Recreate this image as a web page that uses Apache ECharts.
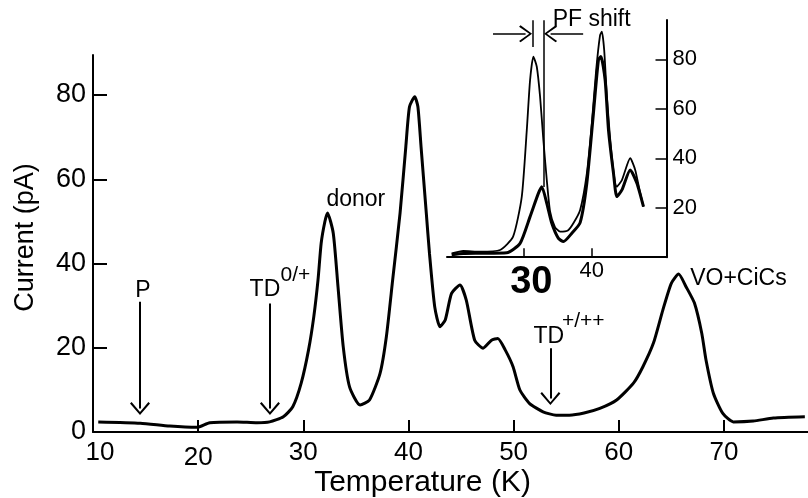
<!DOCTYPE html>
<html lang="en">
<head>
<meta charset="UTF-8">
<title>TSC spectrum</title>
<style>
    body { margin: 0; background: #fff; }
    #chart { width: 808px; height: 498px; }
</style>
</head>
<body>
<div id="chart"></div>
<script src="https://cdn.jsdelivr.net/npm/echarts/dist/echarts.min.js"></script>
<script>
// main spectrum: temperature (K) / current (pA)
const mainT = [10.5, 14.5, 17.3, 19.9, 21.1, 23.7, 25.6, 26.8, 28.1, 29.0, 29.8, 30.5, 31.0, 31.4, 31.7,
    32.05, 32.3, 32.85, 33.3, 33.8, 34.4, 35.4, 36.3, 37.3, 37.9, 38.5, 39.2, 39.75, 40.1, 40.6,
    40.9, 41.2, 41.7, 42.0, 42.5, 43.0, 43.5, 44.1, 44.9, 45.5, 46.3, 47.1, 47.9, 48.5, 49.2,
    49.95, 50.6, 51.5, 52.8, 54.05, 55.3, 56.7, 58.2, 59.8, 61.4, 62.3, 63.3, 64.2, 65.0, 65.7,
    66.4, 67.2, 67.9, 68.3, 69.0, 69.9, 70.9, 72.8, 74.7, 77.7];
const mainI = [2.4, 2.1, 1.4, 1.1, 2.2, 2.4, 2.2, 2.4, 3.6, 6.0, 11.6, 19.5, 27.4, 36.1, 44.8,
    49.9, 52.0, 47.2, 34.5, 20.2, 10.7, 6.4, 7.6, 13.9, 22.6, 36.1, 51.9, 67.7, 77.2, 79.6,
    77.2, 67.7, 51.9, 42.4, 29.7, 25.0, 26.6, 32.9, 34.9, 31.3, 21.8, 19.9, 21.8, 22.2, 19.5,
    15.5, 9.97, 6.8, 4.8, 4.0, 4.0, 4.5, 5.6, 7.6, 11.6, 15.5, 21.1, 29.0, 35.3, 37.5,
    34.5, 30.6, 23.4, 17.1, 9.2, 4.4, 2.4, 2.6, 3.3, 3.6];

// inset: thin and thick traces
const thinT = [19.53, 21.23, 23.67, 26.6, 28.5, 29.77, 30.5, 30.98, 31.46, 31.96, 32.44, 32.92, 33.42,
    33.9, 34.6, 35.37, 36.5, 37.3, 38.29, 39.27, 40.0, 40.63, 41.2, 41.46, 41.8, 42.2, 42.92,
    43.65, 44.39, 45.6, 46.33, 46.96, 47.54];
const thinI = [1.5, 2.5, 2.2, 2.9, 8.3, 24.5, 51.4, 71.6, 81.1, 77.0, 64.9, 47.4, 31.2,
    18.5, 12.3, 10.3, 10.8, 13.7, 19.1, 33.9, 54.1, 75.7, 89.8, 91.2, 83.8, 64.9, 40.6,
    28.5, 31.2, 40.0, 35.3, 27.2, 20.4];
const thickT = [19.53, 21.23, 23.67, 27.57, 29.52, 30.98, 32.19, 32.69, 33.42, 34.15, 35.12, 35.85,
    37.08, 38.29, 39.27, 40.23, 40.96, 41.32, 41.94, 42.43, 43.16, 43.65, 44.39, 45.6, 46.58, 47.54];
const thickI = [1.0, 1.5, 1.6, 1.8, 5.6, 16.4, 25.8, 28.5, 21.8, 13.7, 7.6, 6.3,
    9.7, 14.0, 30.0, 58.2, 79.7, 81.1, 71.6, 51.4, 33.9, 24.5, 27.2, 35.3, 29.9, 20.4];

// tick labels
const mainXTicks = [10, 20, 30, 40, 50, 60, 70];
const mainYTicks = [0, 20, 40, 60, 80];
const insetXTicks = [30, 40];
const insetYTicks = [20, 40, 60, 80];

// peak labels on the main plot (data coords)
const noteText = ['P', 'TD', '0/+', 'donor', 'TD', '+/++', 'VO+CiCs'];
const noteT = [14.75, 26.35, 27.78, 35.0, 53.35, 54.55, 66.75];
const noteI = [33.5, 33.7, 37.3, 55.1, 22.6, 26.35, 36.3];

// downward arrows on the main plot
const arrowT = [14.47, 26.83, 53.5];
const arrowFrom = [30.9, 30.5, 19.9];
const arrowTo = [5.6, 5.6, 7.95];

// PF shift markers in the inset
const shiftT = [31.32, 33.03];
const shiftTop = [95.8, 95.8];
const shiftBottom = [85.0, 28.4];
const shiftArrowFrom = [25.57, 38.73];
const shiftArrowTo = [30.32, 33.98];
const shiftArrowI = 90.3;
const shiftLabel = ['PF shift', 34.2, 95.9];

const FONT = '"Liberation Sans", Arial, sans-serif';
const BLACK = '#000';
const chevron = 'path://M10,0 L20,11.5 L18.4,13 L10,2.8 L1.6,13 L0,11.5 Z';
const zip = (xs, ys) => xs.map((x, i) => [x, ys[i]]);

const chart = echarts.init(document.getElementById('chart'));

const arrowLines = arrowT.map((t, i) => [
    { coord: [t, arrowFrom[i]] },
    { coord: [t, arrowTo[i]], symbol: chevron, symbolSize: [20, 13] }
]);

const shiftLines = shiftT.map((t, i) => [
    { coord: [t, shiftTop[i]] },
    { coord: [t, shiftBottom[i]] }
]).concat(shiftArrowFrom.map((t, i) => [
    { coord: [t, shiftArrowI] },
    { coord: [shiftArrowTo[i], shiftArrowI], symbol: chevron, symbolSize: [17, 13] }
]));

const leftAligned = [2, 5, 6];
const notePoints = noteText.map((txt, i) => ({
    name: txt,
    coord: [noteT[i], noteI[i]],
    label: {
        show: true,
        formatter: '{b}',
        position: leftAligned.includes(i) ? 'right' : 'inside',
        distance: 0,
        color: BLACK,
        fontFamily: FONT,
        fontSize: (i === 2 || i === 5) ? 21 : 23
    }
}));

const option = {
    backgroundColor: '#fff',
    animation: false,
    grid: [
        { left: 93, right: 0, top: 55, bottom: 66, outerBoundsMode: 'none', containLabel: false },
        { left: 447, right: 141.5, top: 20, bottom: 240.8, outerBoundsMode: 'none', containLabel: false }
    ],
    xAxis: [
        {
            gridIndex: 0,
            type: 'value',
            min: 10,
            max: 78,
            interval: 10,
            name: 'Temperature (K)',
            nameLocation: 'middle',
            nameGap: 36,
            nameMoveOverlap: false,
            nameTextStyle: { color: BLACK, fontSize: 30, fontFamily: FONT, padding: [0, 56, 0, 0] },
            axisLine: { show: true, lineStyle: { color: BLACK, width: 2 } },
            axisTick: { show: true, inside: true, length: 12, lineStyle: { color: BLACK, width: 2 }, customValues: mainXTicks },
            splitLine: { show: false },
            axisLabel: {
                customValues: mainXTicks,
                margin: 6,
                color: BLACK,
                fontFamily: FONT,
                fontSize: 26,
                formatter: v => v === 10 ? '{a|10}' : (v === 20 ? '{b|20}' : '{c|' + v + '}'),
                rich: {
                    a: { fontSize: 26, fontFamily: FONT, color: BLACK, lineHeight: 30, padding: [0, 0, 0, 14] },
                    b: { fontSize: 26, fontFamily: FONT, color: BLACK, lineHeight: 40 },
                    c: { fontSize: 26, fontFamily: FONT, color: BLACK, lineHeight: 30 }
                }
            }
        },
        {
            gridIndex: 1,
            type: 'value',
            min: 18.85,
            max: 50.9,
            axisLine: { show: true, lineStyle: { color: BLACK, width: 2 } },
            axisTick: { show: true, inside: true, length: 9, lineStyle: { color: BLACK, width: 1.5 }, customValues: insetXTicks },
            splitLine: { show: false },
            axisLabel: {
                customValues: insetXTicks,
                margin: 3,
                color: BLACK,
                fontFamily: FONT,
                formatter: v => v === 30 ? '{big|30}' : '{sm|' + v + '}',
                rich: {
                    big: { fontSize: 38, fontWeight: 'bold', fontFamily: FONT, color: BLACK, lineHeight: 44, padding: [0, 0, 0, 16] },
                    sm: { fontSize: 22, fontFamily: FONT, color: BLACK, lineHeight: 22 }
                }
            }
        }
    ],
    yAxis: [
        {
            gridIndex: 0,
            type: 'value',
            min: 0,
            max: 89.5,
            interval: 20,
            name: 'Current (pA)',
            nameLocation: 'middle',
            nameGap: 54,
            nameMoveOverlap: false,
            nameTextStyle: { color: BLACK, fontSize: 27, fontFamily: FONT, padding: [0, 0, 0, 12] },
            axisLine: { show: true, lineStyle: { color: BLACK, width: 2 } },
            axisTick: { show: true, inside: true, length: 14, lineStyle: { color: BLACK, width: 2 }, customValues: mainYTicks },
            splitLine: { show: false },
            axisLabel: { customValues: mainYTicks, margin: 7, color: BLACK, fontFamily: FONT, fontSize: 27 }
        },
        {
            gridIndex: 1,
            type: 'value',
            position: 'right',
            min: 0,
            max: 95.9,
            interval: 20,
            axisLine: { show: true, lineStyle: { color: BLACK, width: 2 } },
            axisTick: { show: true, inside: true, length: 11, lineStyle: { color: BLACK, width: 1.5 }, customValues: insetYTicks },
            splitLine: { show: false },
            axisLabel: { customValues: insetYTicks, margin: 6, color: BLACK, fontFamily: FONT, fontSize: 22 }
        }
    ],
    series: [
        {
            type: 'line',
            xAxisIndex: 0,
            yAxisIndex: 0,
            data: zip(mainT, mainI),
            showSymbol: false,
            smooth: 0.2,
            clip: false,
            lineStyle: { color: BLACK, width: 3 },
            markLine: {
                silent: true,
                symbol: ['none', 'none'],
                lineStyle: { color: BLACK, width: 2, type: 'solid' },
                label: { show: false },
                emphasis: { disabled: true },
                data: arrowLines
            },
            markPoint: {
                silent: true,
                symbol: 'rect',
                symbolSize: 1,
                itemStyle: { color: 'rgba(0,0,0,0)' },
                data: notePoints
            }
        },
        {
            type: 'line',
            xAxisIndex: 1,
            yAxisIndex: 1,
            data: zip(thinT, thinI),
            showSymbol: false,
            smooth: 0.2,
            lineStyle: { color: BLACK, width: 1.8 }
        },
        {
            type: 'line',
            xAxisIndex: 1,
            yAxisIndex: 1,
            data: zip(thickT, thickI),
            showSymbol: false,
            smooth: 0.2,
            clip: false,
            lineStyle: { color: BLACK, width: 3 },
            markLine: {
                silent: true,
                symbol: ['none', 'none'],
                lineStyle: { color: BLACK, width: 1.5, type: 'solid' },
                label: { show: false },
                emphasis: { disabled: true },
                data: shiftLines
            },
            markPoint: {
                silent: true,
                symbol: 'rect',
                symbolSize: 1,
                itemStyle: { color: 'rgba(0,0,0,0)' },
                data: [{
                    name: shiftLabel[0],
                    coord: [shiftLabel[1], shiftLabel[2]],
                    label: { show: true, formatter: '{b}', position: 'right', distance: 0, color: BLACK, fontFamily: FONT, fontSize: 23 }
                }]
            }
        }
    ]
};

chart.setOption(option);
</script>
</body>
</html>
